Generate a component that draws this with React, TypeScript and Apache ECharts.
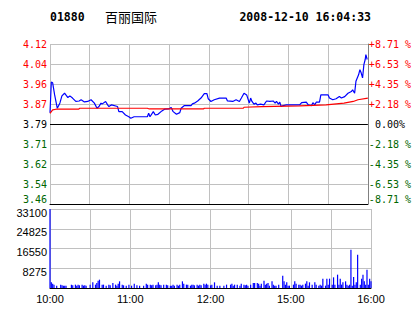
import { useEffect, useRef } from 'react';
import * as echarts from 'echarts';

const STOCK_CODE = '01880';
const STOCK_NAME = '百丽国际';
const TIMESTAMP = '2008-12-10 16:04:33';

const PRICE_LOW = 3.46;
const PRICE_HIGH = 4.12;
const PREV_CLOSE = 3.79;
const PRICE_STEP = 0.0825;
const priceLabels = ['3.46', '3.54', '3.62', '3.71', '3.79', '3.87', '3.96', '4.04', '4.12'];
const pctLabels = ['-8.71 %', '-6.53 %', '-4.35 %', '-2.18 %', '\u00a00.00%', '+2.18 %', '+4.35 %', '+6.53 %', '+8.71 %'];

const VOL_MAX = 33100;
const VOL_STEP = 8275;

const TOTAL_MINUTES = 240;
const TIME_STEP = 30;
const timeLabels = ['10:00', '', '11:00', '', '12:00', '', '15:00', '', '16:00'];

// [minute since 10:00, price]
const priceSeries: [number, number][] = [
  [0, 3.836], [1, 3.963], [2, 3.96], [3.5, 3.91], [5.5, 3.855], [7.5, 3.877], [9, 3.906], [11, 3.917],
  [13.5, 3.899], [15, 3.906], [17, 3.897], [19.5, 3.883], [22, 3.885], [23.5, 3.89], [26, 3.881], [28.5, 3.883],
  [31, 3.89], [33.5, 3.876], [35.5, 3.855], [37, 3.862], [38.5, 3.876], [39.5, 3.873], [42, 3.883], [43.5, 3.869],
  [44.5, 3.862], [46.5, 3.869], [51, 3.862], [52, 3.841], [54.5, 3.841], [57, 3.827], [59.5, 3.82], [61, 3.814],
  [63.5, 3.82], [73.5, 3.82], [74.5, 3.834], [75.5, 3.82], [78, 3.841], [79.5, 3.827], [81.5, 3.83], [84.5, 3.844],
  [86.5, 3.851], [89.5, 3.852], [91.5, 3.858], [93, 3.841], [95.5, 3.83], [98, 3.837], [99, 3.855], [101.5, 3.866],
  [106.5, 3.866], [107.5, 3.873], [109, 3.876], [111.5, 3.885], [114, 3.897], [116.5, 3.915], [118.5, 3.915],
  [119.5, 3.894], [121.5, 3.883], [124, 3.89], [128, 3.897], [133, 3.897], [134, 3.885], [138, 3.883], [140.5, 3.89],
  [143, 3.883], [144.5, 3.897], [146.5, 3.917], [148.5, 3.91], [150.5, 3.876], [151.5, 3.897], [152.5, 3.883],
  [154, 3.872], [155.5, 3.876], [156.5, 3.869], [159, 3.872], [161.5, 3.869], [163.5, 3.885], [166, 3.883],
  [168.5, 3.885], [170, 3.876], [171, 3.883], [172.5, 3.872], [173.5, 3.88], [174.5, 3.862], [176, 3.866],
  [178.5, 3.869], [188.5, 3.869], [190, 3.878], [193.5, 3.88], [195, 3.869], [197.5, 3.866], [198.5, 3.878],
  [200, 3.869], [201, 3.88], [203.5, 3.88], [204.5, 3.91], [210, 3.91], [211, 3.897], [213.5, 3.89], [216, 3.894],
  [218.5, 3.903], [220, 3.897], [222.5, 3.903], [225, 3.917], [227.5, 3.924], [228.5, 3.931], [230, 3.917],
  [231, 3.966], [233, 3.993], [234, 4.014], [235, 4.0], [236, 3.98], [237, 4.035], [238, 4.056], [238.5, 4.076],
  [239.5, 4.056],
];

// [minute, average price]
const avgSeries: [number, number][] = [
  [0, 3.834], [2, 3.848], [4.5, 3.851], [21.5, 3.851], [22.5, 3.855], [73.5, 3.855], [75, 3.852], [116, 3.852],
  [116.5, 3.855], [146, 3.855], [146.5, 3.859], [160, 3.862], [188.5, 3.865], [208.5, 3.869], [222, 3.876],
  [229, 3.883], [232.5, 3.89], [240, 3.897],
];

// [minute, volume]
const volumeSeries: [number, number][] = [
  [0, 33100], [1, 2370], [2, 1820], [3, 1400], [5, 980], [8, 1400], [9, 1120], [10, 980], [11, 980], [12, 980],
  [16, 1400], [17, 1120], [19, 1400], [20, 980], [21, 1400], [22, 1120], [24, 1400], [25, 980], [26, 1120], [27, 980],
  [30, 1400], [32, 2370], [34, 1400], [35, 2100], [36, 3070], [37, 3490], [39, 1400], [40, 1400], [42, 980], [44, 1400],
  [45, 1120], [47, 2100], [49, 1400], [50, 980], [51, 1820], [52, 2790], [54, 1400], [55, 1120], [57, 980], [59, 1400],
  [61, 980], [63, 1820], [65, 1120], [67, 980], [70, 980], [72, 1820], [73, 1400], [75, 1400], [76, 1120], [77, 1400],
  [79, 1120], [80, 1400], [81, 2370], [82, 1400], [83, 1120], [85, 1400], [87, 1400], [88, 1120], [90, 980], [91, 980],
  [92, 1400], [93, 980], [95, 1400], [96, 980], [97, 1400], [99, 2790], [100, 1820], [102, 1400], [103, 1400], [105, 980],
  [106, 1400], [107, 1400], [108, 1120], [110, 1400], [111, 980], [112, 1400], [113, 1120], [115, 1820], [116, 1400],
  [117, 1820], [118, 1400], [120, 1120], [121, 1400], [123, 2370], [125, 980], [127, 980], [130, 980], [132, 1400],
  [135, 1400], [136, 1820], [137, 980], [138, 1400], [140, 1400], [142, 980], [143, 1820], [145, 1400], [146, 1120],
  [147, 1400], [148, 980], [150, 1400], [152, 2100], [153, 2100], [155, 2100], [156, 1820], [157, 980], [158, 1820],
  [160, 3070], [161, 1400], [162, 1820], [163, 2100], [164, 980], [166, 2790], [167, 1400], [168, 980], [169, 980],
  [171, 1400], [174, 5170], [175, 2790], [176, 1400], [177, 2370], [178, 980], [179, 980], [182, 1400], [183, 2790],
  [184, 1820], [186, 1400], [187, 1400], [188, 980], [189, 1400], [191, 1820], [192, 2790], [193, 980], [194, 2370],
  [196, 1400], [198, 2370], [199, 1400], [201, 980], [202, 1400], [203, 980], [204, 3910], [206, 980], [207, 3910],
  [208, 1400], [209, 3910], [211, 1400], [212, 4470], [213, 1400], [215, 5590], [216, 1400], [217, 3910], [218, 1400],
  [219, 2370], [221, 2790], [222, 1400], [223, 980], [224, 1400], [225, 16070], [226, 980], [227, 4610], [228, 1400],
  [229, 2370], [230, 13970], [232, 1400], [233, 3910], [234, 5590], [235, 2790], [236, 1400], [237, 7680], [238, 1400],
  [239, 3910], [240, 2790],
];

const GRID_GRAY = '#c0c0c0';
const UP_RED = '#ff0000';
const DOWN_GREEN = '#006600';
const MONO = 'DejaVu Sans Mono';
const SANS = 'Liberation Sans';

function labelColor(index: number): string {
  if (index > 4) return UP_RED;
  if (index < 4) return DOWN_GREEN;
  return '#000000';
}

export default function App() {
  const ref = useRef<HTMLDivElement>(null);

  useEffect(() => {
    if (!ref.current) return;
    const chart = echarts.init(ref.current, undefined, { renderer: 'svg' });
    const idx = (v: number) => Math.round(v / PRICE_STEP);
    const priceRange = PRICE_HIGH - PRICE_LOW;
    const lowRich = {
      low: { color: DOWN_GREEN, fontSize: 10, fontFamily: MONO, padding: [0, 0, 9, 0] },
    };

    chart.setOption({
      animation: false,
      backgroundColor: '#ffffff',
      graphic: [
        {
          type: 'text', x: 50, y: 17,
          style: {
            text: STOCK_CODE, font: `bold 11.5px "${MONO}"`, fill: '#000',
            textAlign: 'left', textVerticalAlign: 'middle',
          },
        },
        {
          type: 'text', x: 105, y: 16,
          style: {
            text: STOCK_NAME, font: '13px "Noto Sans CJK SC"', fill: '#000',
            textAlign: 'left', textVerticalAlign: 'middle',
          },
        },
        {
          type: 'text', x: 371, y: 17,
          style: {
            text: TIMESTAMP, font: `bold 11.5px "${MONO}"`, fill: '#000',
            textAlign: 'right', textVerticalAlign: 'middle',
          },
        },
      ],
      grid: [
        { left: 50, top: 44, width: 321, height: 160 },
        { left: 50, top: 209, width: 321, height: 79 },
      ],
      xAxis: [
        {
          type: 'value', gridIndex: 0, min: 0, max: TOTAL_MINUTES, interval: TIME_STEP,
          axisLine: { show: true, onZero: false, lineStyle: { color: '#000', width: 1 } },
          axisTick: { show: false }, axisLabel: { show: false },
          splitLine: { show: true, lineStyle: { color: GRID_GRAY, width: 1 } },
        },
        {
          type: 'value', gridIndex: 1, min: 0, max: TOTAL_MINUTES, interval: TIME_STEP,
          axisLine: { show: true, onZero: false, lineStyle: { color: '#000', width: 1 } },
          axisTick: { show: false },
          axisLabel: {
            show: true, margin: 5, color: '#000', fontSize: 11, fontFamily: SANS,
            formatter: (v: number) => timeLabels[Math.round(v / TIME_STEP)] ?? '',
          },
          splitLine: { show: true, lineStyle: { color: GRID_GRAY, width: 1 } },
        },
      ],
      yAxis: [
        {
          type: 'value', gridIndex: 0, min: 0, max: priceRange, interval: PRICE_STEP,
          axisLine: { show: false }, axisTick: { show: false },
          axisLabel: {
            margin: 3, fontSize: 10, fontFamily: MONO,
            formatter: (v: number) => {
              const i = idx(v);
              return i === 0 ? `{low|${priceLabels[0]}}` : priceLabels[i] ?? '';
            },
            color: (v: number) => labelColor(idx(v)),
            rich: lowRich,
          },
          splitLine: { show: true, lineStyle: { color: GRID_GRAY, width: 1 } },
        },
        {
          type: 'value', gridIndex: 0, position: 'right', min: 0, max: priceRange, interval: PRICE_STEP,
          axisLine: { show: true, lineStyle: { color: '#808080', width: 1 } }, axisTick: { show: false },
          axisLabel: {
            margin: 1, fontSize: 10, fontFamily: MONO,
            formatter: (v: number) => {
              const i = idx(v);
              return i === 0 ? `{low|${pctLabels[0]}}` : pctLabels[i] ?? '';
            },
            color: (v: number) => labelColor(idx(v)),
            rich: lowRich,
          },
          splitLine: { show: false },
        },
        {
          type: 'value', gridIndex: 1, min: 0, max: VOL_MAX, interval: VOL_STEP,
          axisLine: { show: false }, axisTick: { show: false },
          axisLabel: {
            margin: 3, showMinLabel: false,
            formatter: (v: number) => (v === 0 ? '' : `{v|${Math.round(v)}}`),
            rich: {
              v: { color: '#000', fontSize: 11, fontFamily: SANS, padding: [7, 0, 0, 0] },
            },
          },
          splitLine: { show: true, lineStyle: { color: GRID_GRAY, width: 1 } },
        },
      ],
      series: [
        {
          type: 'line', xAxisIndex: 0, yAxisIndex: 0, symbol: 'none', silent: true,
          data: priceSeries.map(([m, p]) => [m, p - PRICE_LOW]),
          lineStyle: { color: '#0000ff', width: 1.2 },
          markLine: {
            silent: true, symbol: 'none', label: { show: false },
            lineStyle: { color: '#000', width: 1, type: 'solid' },
            data: [{ yAxis: PREV_CLOSE - PRICE_LOW }],
          },
        },
        {
          type: 'line', xAxisIndex: 0, yAxisIndex: 0, symbol: 'none', silent: true,
          data: avgSeries.map(([m, p]) => [m, p - PRICE_LOW]),
          lineStyle: { color: '#ff0000', width: 1.2 },
        },
        {
          type: 'bar', xAxisIndex: 1, yAxisIndex: 2, silent: true, barWidth: 1.2,
          data: volumeSeries,
          itemStyle: { color: '#0000ff' },
        },
      ],
    });

    return () => chart.dispose();
  }, []);

  return (
    <div
      ref={ref}
      style={{ position: 'absolute', left: 0, top: 0, width: 414, height: 314, background: '#fff' }}
    />
  );
}
